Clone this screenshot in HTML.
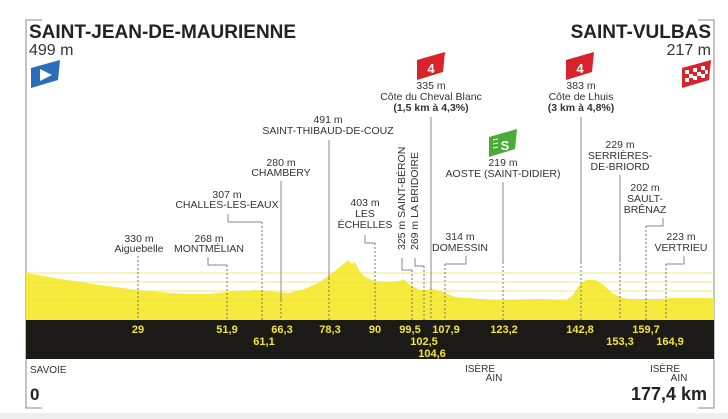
<!DOCTYPE html>
<html><head><meta charset="utf-8"><style>
html,body{margin:0;padding:0;background:#fff}
svg{display:block}
text{font-family:"Liberation Sans Narrow","Liberation Sans",sans-serif;fill:#333}
.l{font-size:10.5px;text-anchor:middle}
.k{font-size:11px;font-weight:bold;fill:#f0e53a;text-anchor:middle;font-family:"Liberation Sans Narrow","Liberation Sans",sans-serif}
.s{stroke:#888;stroke-width:1;fill:none}
.d{stroke:#777;stroke-width:1;fill:none;stroke-dasharray:2,2}
</style></head><body>
<svg width="728" height="419" viewBox="0 0 728 419" xmlns="http://www.w3.org/2000/svg">
<rect x="0" y="413" width="728" height="6" fill="#eeeeee"/>
<path d="M42 20 H26 V408 H42" class="s" stroke="#999"/>
<path d="M698 20 H714 V408 H698" class="s" stroke="#999"/>
<path d="M26 320 L26 273 L60 279 L100 285 L137 290 L170 293 L190 294 L210 294 L226 292 L240 291 L256 290 L263 291 L275 292 L289 293 L305 289 L320 282 L335 271 L348 260 L352 264 L355 262 L360 272 L364 276 L374 281 L390 282 L400 281 L403 279 L410 285 L420 290 L427 290 L432 289 L440 291 L447 294 L455 297 L480 299 L500 300 L540 299 L566 300 L572 296 L580 284 L586 280 L596 280 L605 286 L612 293 L620 297 L628 299 L660 299 L670 298 L714 298 L714 320 Z" fill="#f6ea3a"/>
<g stroke="#ece04a" stroke-width="1" opacity="0.7">
<line x1="26" y1="291" x2="714" y2="291"/><line x1="26" y1="300" x2="714" y2="300"/><line x1="26" y1="309" x2="714" y2="309"/><line x1="26" y1="282" x2="714" y2="282"/><line x1="26" y1="273" x2="714" y2="273"/>
</g>
<rect x="26" y="320" width="688" height="39" fill="#1c1a17"/>
<text x="29" y="38" style="font-family:'Liberation Sans',sans-serif;font-size:19px;font-weight:bold;fill:#222">SAINT-JEAN-DE-MAURIENNE</text>
<text x="29" y="55" style="font-family:'Liberation Sans',sans-serif;font-size:16px;fill:#333">499 m</text>
<text x="711" y="38" text-anchor="end" style="font-family:'Liberation Sans',sans-serif;font-size:19px;font-weight:bold;fill:#222">SAINT-VULBAS</text>
<text x="711" y="55" text-anchor="end" style="font-family:'Liberation Sans',sans-serif;font-size:16px;fill:#333">217 m</text>
<path d="M31 68 L60 60 L58 80 L31 88 Z" fill="#2a6ebb"/>
<path d="M40 69 L52 75 L40 81 Z" fill="#fff"/>
<g>
<path d="M682 68 L711 60 L709 80 L682 88 Z" fill="#d8232a"/>
<g fill="#fff">
<rect x="685" y="70" width="4" height="4"/><rect x="693" y="68" width="4" height="4"/><rect x="701" y="66" width="4" height="4"/>
<rect x="689" y="74" width="4" height="4"/><rect x="697" y="72" width="4" height="4"/><rect x="705" y="70" width="3" height="4"/>
<rect x="685" y="78" width="4" height="4"/><rect x="693" y="76" width="4" height="4"/><rect x="701" y="74" width="4" height="4"/>
</g></g>
<path d="M417 60 L445 52 L443 72 L417 80 Z" fill="#d8232a"/><text x="431" y="73" style="font-size:13px;font-weight:bold;fill:#fff;text-anchor:middle">4</text>
<path d="M566 60 L594 52 L592 72 L566 80 Z" fill="#d8232a"/><text x="580" y="73" style="font-size:13px;font-weight:bold;fill:#fff;text-anchor:middle">4</text>
<path d="M489 137 L517 129 L515 149 L489 157 Z" fill="#4caa38"/><text x="505" y="150" style="font-size:13px;font-weight:bold;fill:#fff;text-anchor:middle">S</text>
<g stroke="#fff" stroke-width="1"><line x1="493" y1="140" x2="498" y2="139"/><line x1="493" y1="144" x2="498" y2="143"/><line x1="493" y1="148" x2="498" y2="147"/></g>
<text class="l" x="139" y="242">330 m</text><text class="l" x="139" y="252">Aiguebelle</text>
<path class="d" d="M138 256 V320"/>
<text class="l" x="209" y="242">268 m</text><text class="l" x="209" y="252">MONTMÉLIAN</text>
<path class="s" d="M208 257 V265 H227"/><path class="d" d="M227 265 V320"/>
<text class="l" x="227" y="198">307 m</text><text class="l" x="227" y="208">CHALLES-LES-EAUX</text>
<path class="s" d="M228 214 V222 H262"/><path class="d" d="M262 222 V320"/>
<text class="l" x="281" y="166">280 m</text><text class="l" x="281" y="176">CHAMBERY</text>
<path class="s" d="M281 181 V300"/><path class="d" d="M281 300 V320"/>
<text class="l" x="328" y="123">491 m</text><text class="l" x="328" y="134">SAINT-THIBAUD-DE-COUZ</text>
<path class="s" d="M329 140 V278"/><path class="d" d="M329 278 V320"/>
<text class="l" x="365" y="206">403 m</text><text class="l" x="365" y="217">LES</text><text class="l" x="365" y="228">ÉCHELLES</text>
<path class="s" d="M365 235 V243 H375"/><path class="d" d="M375 243 V320"/>
<text class="l" transform="translate(405,250) rotate(-90)" style="text-anchor:start">325 m SAINT-BÉRON</text>
<path class="s" d="M402 258 V270 H412"/><path class="d" d="M412 270 V320"/>
<text class="l" transform="translate(418,250) rotate(-90)" style="text-anchor:start">269 m LA BRIDOIRE</text>
<path class="s" d="M415 258 V266 H424"/><path class="d" d="M424 266 V320"/>
<text class="l" x="431" y="89">335 m</text><text class="l" x="431" y="100">Côte du Cheval Blanc</text><text class="l" x="431" y="111" style="font-weight:bold">(1,5 km à 4,3%)</text>
<path class="s" d="M431 117 V288"/><path class="d" d="M431 288 V320"/>
<text class="l" x="460" y="240">314 m</text><text class="l" x="460" y="251">DOMESSIN</text>
<path class="s" d="M466 256 V264 H445"/><path class="d" d="M445 264 V320"/>
<text class="l" x="503" y="166">219 m</text><text class="l" x="503" y="177">AOSTE (SAINT-DIDIER)</text>
<path class="s" d="M503 182 V262"/><path class="d" d="M503 262 V320"/>
<text class="l" x="581" y="89">383 m</text><text class="l" x="581" y="100">Côte de Lhuis</text><text class="l" x="581" y="111" style="font-weight:bold">(3 km à 4,8%)</text>
<path class="s" d="M581 117 V262"/><path class="d" d="M581 262 V320"/>
<text class="l" x="620" y="148">229 m</text><text class="l" x="620" y="159">SERRIÈRES-</text><text class="l" x="620" y="170">DE-BRIORD</text>
<path class="s" d="M620 175 V260"/><path class="d" d="M620 260 V320"/>
<text class="l" x="645" y="191">202 m</text><text class="l" x="645" y="202">SAULT-</text><text class="l" x="645" y="213">BRÊNAZ</text>
<path class="s" d="M663 218 V226 H646"/><path class="d" d="M646 226 V320"/>
<text class="l" x="681" y="240">223 m</text><text class="l" x="681" y="251">VERTRIEU</text>
<path class="s" d="M684 256 V264 H666"/><path class="d" d="M666 264 V320"/>
<text class="k" x="138" y="333">29</text><text class="k" x="227" y="333">51,9</text><text class="k" x="282" y="333">66,3</text><text class="k" x="330" y="333">78,3</text><text class="k" x="375" y="333">90</text><text class="k" x="410" y="333">99,5</text><text class="k" x="446" y="333">107,9</text><text class="k" x="504" y="333">123,2</text><text class="k" x="580" y="333">142,8</text><text class="k" x="646" y="333">159,7</text>
<text class="k" x="264" y="345">61,1</text><text class="k" x="424" y="345">102,5</text><text class="k" x="620" y="345">153,3</text><text class="k" x="670" y="345">164,9</text>
<text class="k" x="432" y="357">104,6</text>
<text x="30" y="373" style="font-size:10px">SAVOIE</text>
<text x="30" y="400" style="font-size:17px;font-weight:bold;fill:#222">0</text>
<text x="480" y="372" style="font-size:10px;text-anchor:middle">ISÈRE</text><text x="494" y="381" style="font-size:10px;text-anchor:middle">AIN</text>
<text x="665" y="372" style="font-size:10px;text-anchor:middle">ISÈRE</text><text x="679" y="381" style="font-size:10px;text-anchor:middle">AIN</text>
<text x="707" y="400" style="font-size:18px;font-weight:bold;fill:#222;text-anchor:end">177,4 km</text>
</svg>
</body></html>
